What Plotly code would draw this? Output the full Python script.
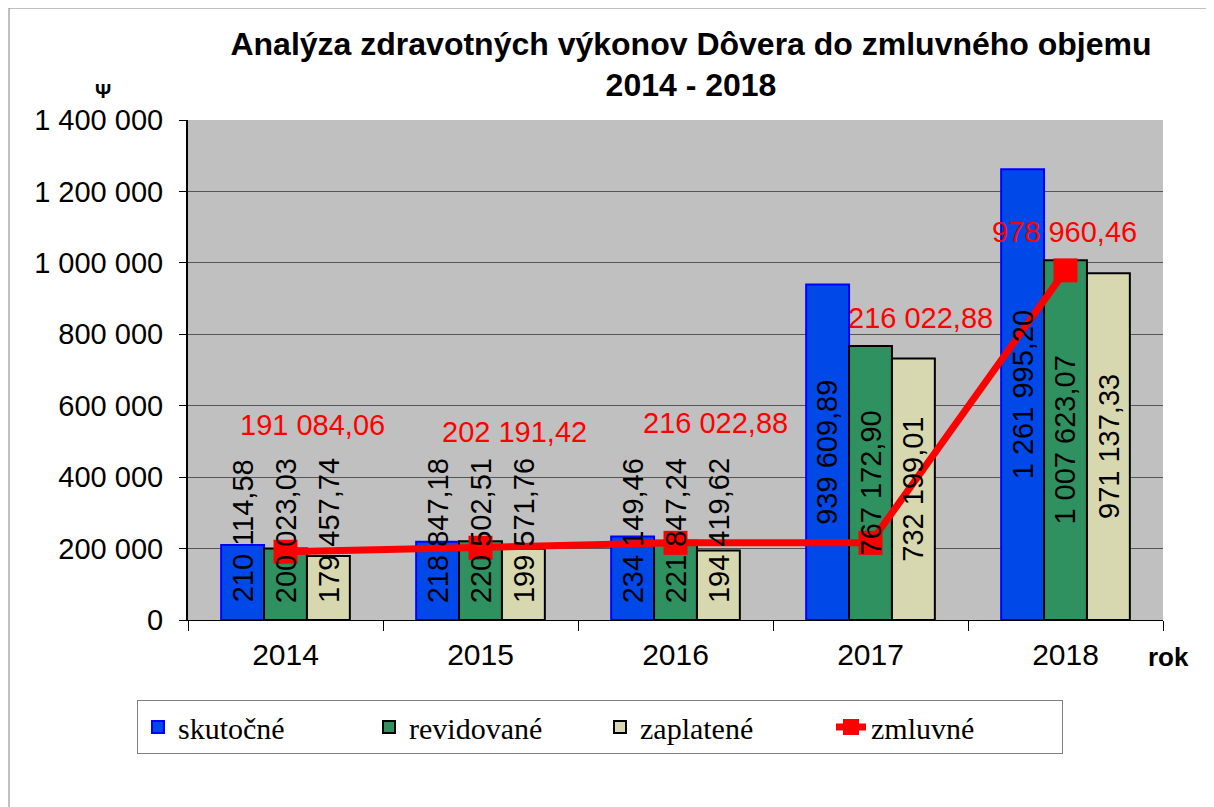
import plotly.graph_objects as go

years = ["2014", "2015", "2016", "2017", "2018"]
skutocne = [210114.58, 218847.18, 234149.46, 939609.89, 1261995.20]
revidovane = [200023.03, 220502.51, 221847.24, 767172.90, 1007623.07]
zaplatene = [179457.74, 199571.76, 194419.62, 732199.01, 971137.33]
zmluvne = [191084.06, 202191.42, 216022.88, 216022.88, 978960.46]

series_names = ["skutočné", "revidované", "zaplatené"]
tick_vals = [0, 200000, 400000, 600000, 800000, 1000000, 1200000, 1400000]

FONT = "Arial, 'Liberation Sans', sans-serif"
SERIF = "'Times New Roman', 'Liberation Serif', serif"

# page body has an 8px default margin; figure coordinates are screen - 8
OFF = 8
W, H = 1214 - OFF, 807 - OFF
PL, PR, PT, PB = 188 - OFF, 1163 - OFF, 120 - OFF, 620 - OFF  # plot area in figure px

def fmt(v):
    s = f"{v:,.2f}"
    return s.replace(",", " ").replace(".", ",")

def px(sx):  # screen x -> paper x
    return (sx - OFF - PL) / (PR - PL)

def py(sy):  # screen y -> paper y
    return (PB - (sy - OFF)) / (PB - PT)

fig = go.Figure()
bar_styles = [
    dict(color="#0048E8", line=dict(color="#0000FF", width=2)),
    dict(color="#2F9060", line=dict(color="#000000", width=2)),
    dict(color="#D8D8B0", line=dict(color="#000000", width=2)),
]
for name, vals, st in zip(series_names, [skutocne, revidovane, zaplatene], bar_styles):
    fig.add_trace(go.Bar(x=years, y=vals, name=name, marker=st))

fig.add_trace(go.Scatter(
    x=years, y=zmluvne, name="zmluvné", mode="lines+markers",
    line=dict(color="#FF0000", width=7),
    marker=dict(symbol="square", size=24, color="#FF0000"),
))

annotations = []
bar_w = (PR - PL) / 5 * (1 - 0.34) / 3
min_center = 250000
for k, vals in enumerate([skutocne, revidovane, zaplatene]):
    for i, v in enumerate(vals):
        annotations.append(dict(
            x=i, y=max(v / 2, min_center), xref="x", yref="y",
            xshift=(k - 1) * bar_w, text=fmt(v), textangle=-90,
            showarrow=False, font=dict(family=FONT, size=29, color="#000000"),
        ))
label_dx = [27, 34, 40, 50, -1]
label_dy = [127, 116, 120, 225, 38]
for i, (v, dx, dy) in enumerate(zip(zmluvne, label_dx, label_dy)):
    annotations.append(dict(
        x=i, y=v, xref="x", yref="y", xshift=dx, yshift=dy,
        text=fmt(v), showarrow=False,
        font=dict(family=FONT, size=29, color="#FF0000"),
    ))
annotations.append(dict(x=px(103), y=py(91), xref="paper", yref="paper",
                        text="<b>Ψ</b>", xanchor="center", yanchor="middle",
                        showarrow=False, font=dict(family=FONT, size=20, color="#000")))
annotations.append(dict(text="<b>rok</b>", x=px(1168), y=py(657),
                        xref="paper", yref="paper", xanchor="center", yanchor="middle",
                        showarrow=False, font=dict(family=FONT, size=26, color="#000")))

fig.update_layout(
    width=W, height=H,
    margin=dict(l=PL, r=W - PR, t=PT, b=H - PB, pad=0),
    paper_bgcolor="#FFFFFF", plot_bgcolor="#C0C0C0",
    barmode="group", bargap=0.34, bargroupgap=0,
    separators=", ",
    title=dict(text="<b>Analýza zdravotných výkonov Dôvera do zmluvného objemu<br>2014 - 2018</b>",
               x=px(691), xref="paper", xanchor="center",
               y=1 - 46.5 / H, yref="container", yanchor="middle",
               font=dict(family=FONT, size=32, color="#000")),
    xaxis=dict(type="category", range=[-0.5, 4.5], showline=True, linecolor="#000", linewidth=1,
               ticks="outside", tickson="boundaries", ticklen=10, tickcolor="#000",
               tickangle=0, ticklabelstandoff=8,
               tickfont=dict(family=FONT, size=30, color="#000"), showgrid=False),
    yaxis=dict(range=[0, 1400000], tickvals=tick_vals, tickformat=",d",
               showline=True, linecolor="#000", linewidth=2,
               ticks="outside", ticklen=7, tickcolor="#000", ticklabelstandoff=10,
               gridcolor="#555555", gridwidth=1, zeroline=False,
               tickfont=dict(family=FONT, size=29, color="#000")),
    legend=dict(orientation="h", x=px(600), xanchor="center",
                y=py(700), yanchor="top",
                bordercolor="#808080", borderwidth=1, bgcolor="#FFFFFF",
                entrywidth=186, entrywidthmode="pixels",
                font=dict(family=SERIF, size=30, color="#000")),
    annotations=annotations,
    showlegend=True,
)
fig.add_shape(type="rect", xref="paper", yref="paper",
              x0=px(9), x1=px(1240), y0=py(830), y1=py(8),
              line=dict(color="#808080", width=1), fillcolor="rgba(0,0,0,0)", layer="below")

fig.write_html("out.html")
